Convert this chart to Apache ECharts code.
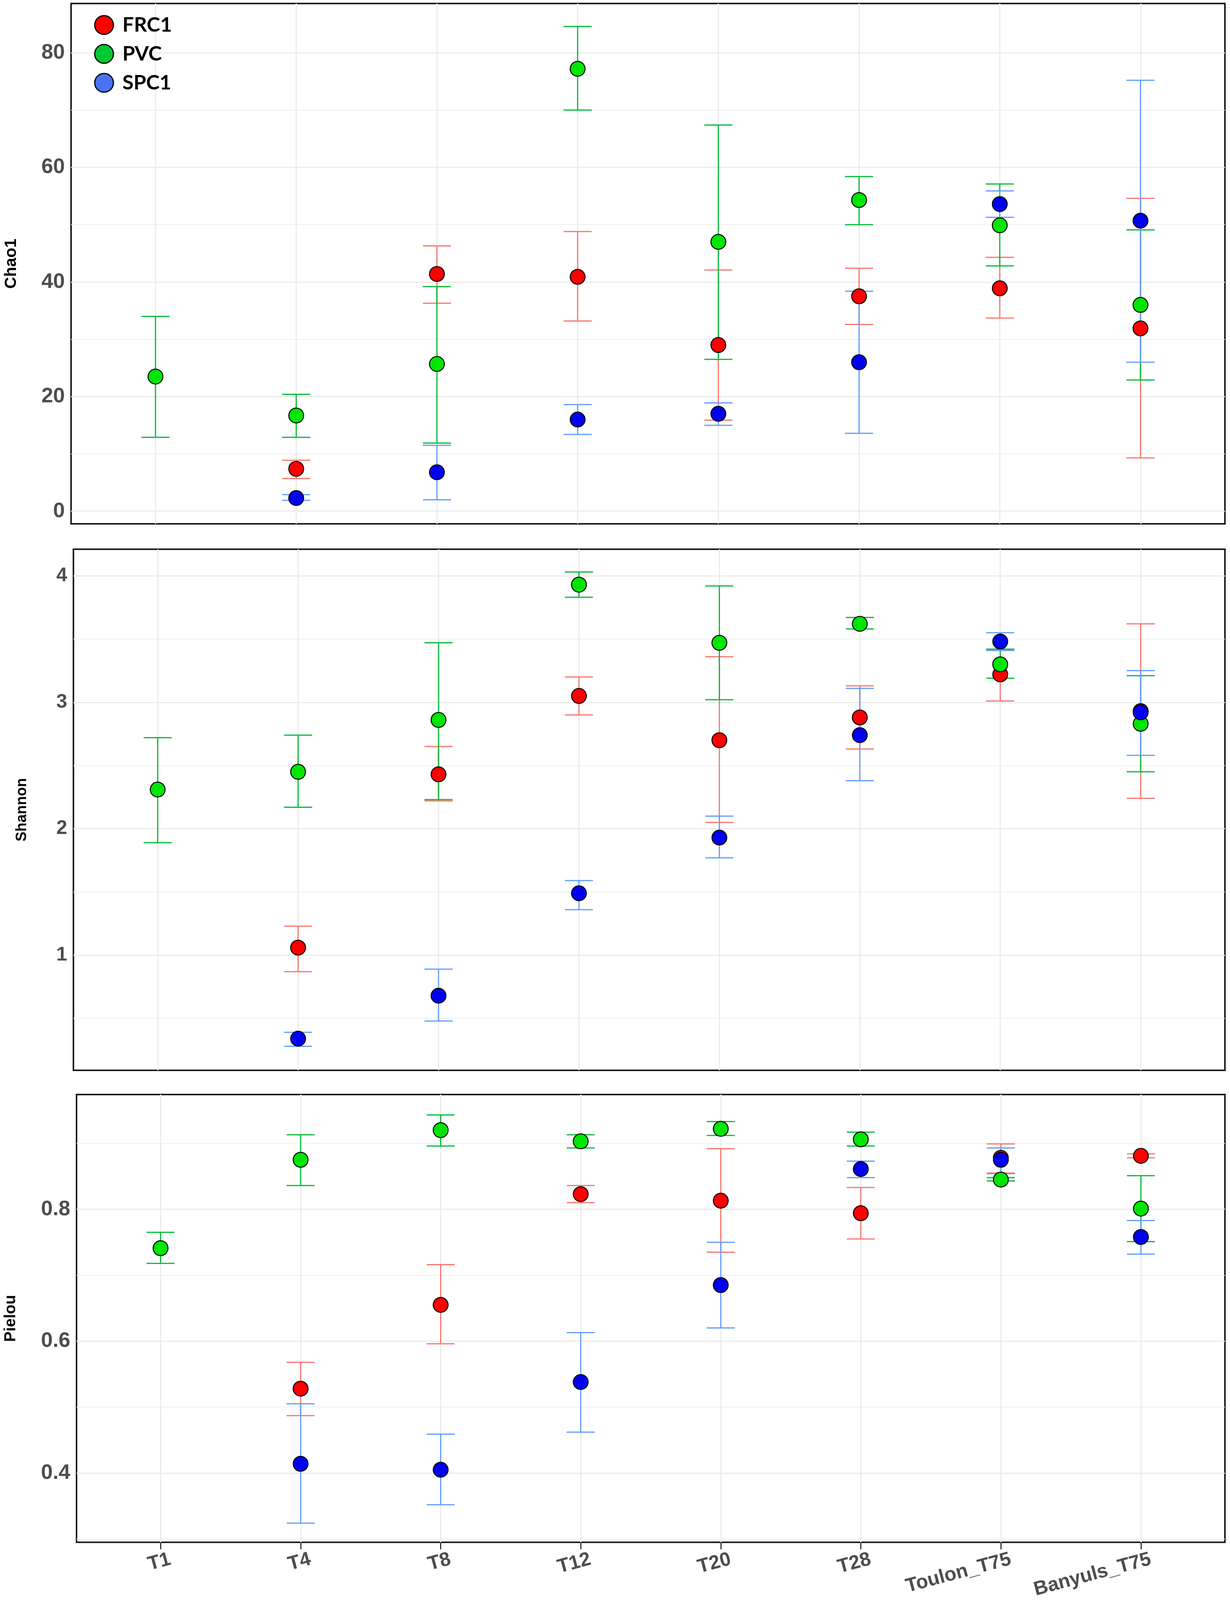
<!DOCTYPE html>
<html>
<head>
<meta charset="utf-8">
<script src="https://cdn.jsdelivr.net/npm/echarts@6/dist/echarts.min.js"></script>
<style>
  html, body { margin: 0; padding: 0; background: #ffffff; overflow: hidden; }
  #chart { width: 3150px; }
</style>
</head>
<body>
<div id="chart"></div>
<script>
// ---------------- DATA ----------------
const categories = ['T1', 'T4', 'T8', 'T12', 'T20', 'T28', 'Toulon_T75', 'Banyuls_T75'];
const groups = ['FRC1', 'PVC', 'SPC1'];

// Chao1
const chao1_FRC1_mean = [null, 7.4, 41.4, 40.9, 29.0, 37.5, 38.9, 31.9];
const chao1_FRC1_low  = [null, 5.7, 36.3, 33.2, 15.9, 32.6, 33.7, 9.3];
const chao1_FRC1_high = [null, 8.9, 46.3, 48.8, 42.1, 42.4, 44.3, 54.6];
const chao1_PVC_mean  = [23.5, 16.7, 25.7, 77.2, 47.0, 54.3, 49.9, 36.0];
const chao1_PVC_low   = [12.9, 12.9, 11.9, 70.0, 26.5, 50.0, 42.8, 22.9];
const chao1_PVC_high  = [34.0, 20.4, 39.2, 84.6, 67.4, 58.4, 57.1, 49.1];
const chao1_SPC1_mean = [null, 2.3, 6.8, 16.0, 17.0, 26.0, 53.6, 50.7];
const chao1_SPC1_low  = [null, 1.9, 2.0, 13.4, 15.0, 13.6, 51.3, 26.0];
const chao1_SPC1_high = [null, 2.9, 11.5, 18.6, 18.9, 38.4, 55.9, 75.2];

// Shannon
const shannon_FRC1_mean = [null, 1.06, 2.43, 3.05, 2.70, 2.88, 3.22, 2.93];
const shannon_FRC1_low  = [null, 0.87, 2.22, 2.90, 2.05, 2.63, 3.01, 2.24];
const shannon_FRC1_high = [null, 1.23, 2.65, 3.20, 3.36, 3.13, 3.41, 3.62];
const shannon_PVC_mean  = [2.31, 2.45, 2.86, 3.93, 3.47, 3.62, 3.30, 2.83];
const shannon_PVC_low   = [1.89, 2.17, 2.23, 3.83, 3.02, 3.58, 3.19, 2.45];
const shannon_PVC_high  = [2.72, 2.74, 3.47, 4.03, 3.92, 3.67, 3.42, 3.21];
const shannon_SPC1_mean = [null, 0.34, 0.68, 1.49, 1.93, 2.74, 3.48, 2.92];
const shannon_SPC1_low  = [null, 0.28, 0.48, 1.36, 1.77, 2.38, 3.41, 2.58];
const shannon_SPC1_high = [null, 0.39, 0.89, 1.59, 2.10, 3.11, 3.55, 3.25];

// Pielou
const pielou_FRC1_mean = [null, 0.528, 0.655, 0.823, 0.813, 0.794, 0.878, 0.881];
const pielou_FRC1_low  = [null, 0.487, 0.596, 0.810, 0.735, 0.755, 0.855, 0.878];
const pielou_FRC1_high = [null, 0.568, 0.716, 0.836, 0.892, 0.833, 0.899, 0.884];
const pielou_PVC_mean  = [0.741, 0.875, 0.920, 0.903, 0.922, 0.906, 0.845, 0.801];
const pielou_PVC_low   = [0.718, 0.836, 0.896, 0.893, 0.912, 0.896, 0.843, 0.751];
const pielou_PVC_high  = [0.765, 0.913, 0.943, 0.913, 0.933, 0.917, 0.848, 0.851];
const pielou_SPC1_mean = [null, 0.414, 0.405, 0.538, 0.685, 0.861, 0.875, 0.758];
const pielou_SPC1_low  = [null, 0.324, 0.352, 0.462, 0.620, 0.848, 0.854, 0.732];
const pielou_SPC1_high = [null, 0.505, 0.459, 0.613, 0.750, 0.873, 0.893, 0.783];

// Tick labels
const chao1Ticks   = [0, 20, 40, 60, 80];
const chao1Minor   = [10, 30, 50, 70];
const shannonTicks = [1, 2, 3, 4];
const shannonMinor = [0.5, 1.5, 2.5, 3.5];
const pielouTicks  = [0.4, 0.6, 0.8];
const pielouMinor  = [0.3, 0.5, 0.7, 0.9];

// ---------------- STYLE / LAYOUT ----------------
const pointColors  = { FRC1: '#FF0000', PVC: '#00E600', SPC1: '#0000F0' };
const errColors    = { FRC1: '#F8766D', PVC: '#00BA38', SPC1: '#619CFF' };
const legendColors = { FRC1: '#FF0000', PVC: '#00C832', SPC1: '#4A72F5' };
const capHalf = 0.1;
const labelShift = 0.07;

// Reference is 3150 x 4529; fit vertically into the actual viewport.
const REF_H = 4529;
const VIEW_H = (window.innerHeight && window.innerHeight > 0) ? window.innerHeight : REF_H;
const CH = Math.min(REF_H, VIEW_H);
const SY = CH / REF_H;
document.getElementById('chart').style.height = CH + 'px';

const metrics = [
  { title: 'Chao1', min: -2.2, max: 88.6, ticks: chao1Ticks, minor: chao1Minor,
    grid: { left: 178, top: 10, bottom: 1483 }, nameGap: 132, nameSize: 42,
    labelFont: "'Liberation Sans Narrow', 'Liberation Sans', Arial, sans-serif", labelSize: 54,
    data: {
      FRC1: [chao1_FRC1_mean, chao1_FRC1_low, chao1_FRC1_high],
      PVC:  [chao1_PVC_mean,  chao1_PVC_low,  chao1_PVC_high],
      SPC1: [chao1_SPC1_mean, chao1_SPC1_low, chao1_SPC1_high] } },
  { title: 'Shannon', min: 0.09, max: 4.21, ticks: shannonTicks, minor: shannonMinor,
    grid: { left: 188, top: 1555, bottom: 3030 }, nameGap: 112, nameSize: 38,
    labelFont: "'Liberation Sans', Arial, sans-serif", labelSize: 50,
    data: {
      FRC1: [shannon_FRC1_mean, shannon_FRC1_low, shannon_FRC1_high],
      PVC:  [shannon_PVC_mean,  shannon_PVC_low,  shannon_PVC_high],
      SPC1: [shannon_SPC1_mean, shannon_SPC1_low, shannon_SPC1_high] } },
  { title: 'Pielou', min: 0.295, max: 0.974, ticks: pielouTicks, minor: pielouMinor,
    grid: { left: 193, top: 3098, bottom: 4375 }, nameGap: 148, nameSize: 40,
    labelFont: "'Liberation Sans Narrow', 'Liberation Sans', Arial, sans-serif", labelSize: 54,
    data: {
      FRC1: [pielou_FRC1_mean, pielou_FRC1_low, pielou_FRC1_high],
      PVC:  [pielou_PVC_mean,  pielou_PVC_low,  pielou_PVC_high],
      SPC1: [pielou_SPC1_mean, pielou_SPC1_low, pielou_SPC1_high] } }
];

const catIdx = categories.map((c, i) => i);

function makeErrRender(color) {
  return function (params, api) {
    const x = api.value(0), lo = api.value(1), hi = api.value(2);
    const a = api.coord([x, lo]), b = api.coord([x, hi]);
    const l1 = api.coord([x - capHalf, lo]), r1 = api.coord([x + capHalf, lo]);
    const l2 = api.coord([x - capHalf, hi]), r2 = api.coord([x + capHalf, hi]);
    const st = { stroke: color, lineWidth: 3 };
    return {
      type: 'group',
      children: [
        { type: 'line', shape: { x1: a[0], y1: a[1], x2: b[0], y2: b[1] }, style: st },
        { type: 'line', shape: { x1: l1[0], y1: l1[1], x2: r1[0], y2: r1[1] }, style: st },
        { type: 'line', shape: { x1: l2[0], y1: l2[1], x2: r2[0], y2: r2[1] }, style: st }
      ]
    };
  };
}

const RIGHT_EDGE = 3137;
const grids = [], xAxes = [], yAxes = [], series = [];

metrics.forEach((m, gi) => {
  const top = Math.round(m.grid.top * SY);
  const height = Math.round(m.grid.bottom * SY) - top;
  grids.push({
    left: m.grid.left, top: top, width: RIGHT_EDGE - m.grid.left, height: height,
    show: true, borderColor: '#1A1A1A', borderWidth: 4, backgroundColor: '#FFFFFF'
  });
  const isBottom = gi === metrics.length - 1;
  xAxes.push({
    type: 'value', gridIndex: gi, min: -0.6, max: 7.6,
    splitLine: { show: false }, axisLine: { show: false },
    axisTick: { show: isBottom, customValues: catIdx, length: 18, lineStyle: { color: '#333333', width: 3 } },
    axisLabel: {
      show: isBottom, customValues: catIdx.map(i => i + labelShift),
      formatter: v => categories[Math.round(v)] || '',
      rotate: 15, margin: Math.round(48 * SY), fontSize: 50, fontWeight: 'bold', color: '#4D4D4D',
      fontFamily: "'Liberation Sans', Arial, sans-serif"
    }
  });
  yAxes.push({
    type: 'value', gridIndex: gi, min: m.min, max: m.max,
    name: m.title, nameLocation: 'middle', nameRotate: 90, nameGap: m.nameGap,
    nameTextStyle: { fontSize: m.nameSize, fontWeight: 'bold', color: '#000000', fontFamily: "'Liberation Sans', Arial, sans-serif" },
    splitLine: { show: false }, axisLine: { show: false },
    axisTick: { show: true, customValues: m.ticks, length: 12, lineStyle: { color: '#333333', width: 3 } },
    axisLabel: {
      customValues: m.ticks, margin: 16, fontSize: m.labelSize, fontWeight: 'bold',
      color: '#4D4D4D', fontFamily: m.labelFont, formatter: v => String(v)
    }
  });

  // panel grid lines
  const gl = [];
  m.ticks.forEach(v => gl.push({ yAxis: v, lineStyle: { color: '#EBEBEB', width: 3, type: 'solid' } }));
  m.minor.forEach(v => gl.push({ yAxis: v, lineStyle: { color: '#EFEFEF', width: 2, type: 'solid' } }));
  catIdx.forEach(i => gl.push({ xAxis: i, lineStyle: { color: '#EBEBEB', width: 3, type: 'solid' } }));
  series.push({
    type: 'scatter', xAxisIndex: gi, yAxisIndex: gi, silent: true,
    data: [[0, m.ticks[0]]], symbolSize: 1, itemStyle: { opacity: 0 },
    markLine: {
      silent: true, z: 1, animation: false, symbol: ['none', 'none'],
      label: { show: false }, emphasis: { disabled: true },
      lineStyle: { type: 'solid', color: '#EBEBEB', width: 3 },
      data: gl
    }
  });

  // error bars
  groups.forEach(g => {
    const [mean, lo, hi] = m.data[g];
    const d = [];
    catIdx.forEach(i => { if (mean[i] != null) d.push([i, lo[i], hi[i]]); });
    series.push({
      type: 'custom', name: g + ' error', xAxisIndex: gi, yAxisIndex: gi, z: 2, silent: true,
      renderItem: makeErrRender(errColors[g]), encode: { x: 0, y: [1, 2] }, data: d
    });
  });
  // points
  groups.forEach(g => {
    const mean = m.data[g][0];
    const d = [];
    catIdx.forEach(i => { if (mean[i] != null) d.push([i, mean[i]]); });
    series.push({
      type: 'scatter', name: g, xAxisIndex: gi, yAxisIndex: gi, z: 3,
      symbol: 'circle', symbolSize: 38, data: d,
      itemStyle: { color: pointColors[g], borderColor: '#000000', borderWidth: 2.5, opacity: 1 },
      emphasis: { disabled: true }
    });
  });
});

const chart = echarts.init(document.getElementById('chart'), null, { renderer: 'canvas', width: 3150, height: CH });
chart.setOption({
  backgroundColor: '#FFFFFF',
  animation: false,
  grid: grids,
  xAxis: xAxes,
  yAxis: yAxes,
  legend: {
    orient: 'vertical', left: 236, top: Math.round(36 * SY), icon: 'circle',
    itemWidth: 48, itemHeight: 50, itemGap: Math.round(80 * SY) - 50, selectedMode: false,
    textStyle: { fontSize: 52, fontWeight: 'bold', color: '#000000', fontFamily: "Lato, 'Open Sans', sans-serif", padding: [0, 0, 0, 18] },
    data: groups.map(g => ({ name: g, itemStyle: { color: legendColors[g], borderColor: '#000000', borderWidth: 3 } }))
  },
  series: series
});
</script>
</body>
</html>
